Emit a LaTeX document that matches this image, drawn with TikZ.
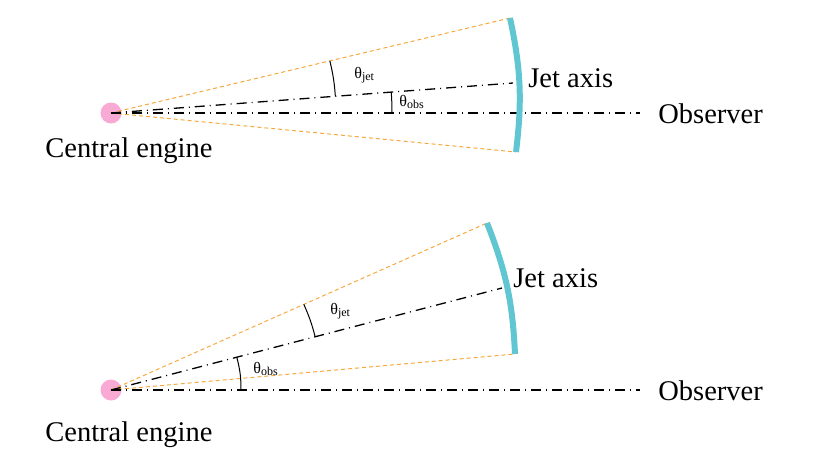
\documentclass[tikz,border=0pt]{standalone}
\usepackage{fontspec}
\setmainfont{Liberation Serif}
\usepackage{tikz}
\usetikzlibrary{calc}
\definecolor{enginepink}{RGB}{249,170,212}
\definecolor{jetcyan}{RGB}{95,198,210}
\definecolor{coneorange}{RGB}{246,168,62}
\tikzset{eng/.style={circle,fill=enginepink,minimum size=10.5pt,inner sep=0pt},
  axisline/.style={line width=0.65pt,dash pattern=on 5pt off 2.5pt on 0.5pt off 2.5pt},
  cone/.style={coneorange,line width=0.5pt,dash pattern=on 2pt off 1.5pt},
  shell/.style={jetcyan,line width=3pt},
  ang/.style={line width=0.5pt},
  lbl/.style={inner sep=0pt,anchor=base west,font=\fontsize{14.25}{17}\selectfont},
  sml/.style={inner sep=0pt,anchor=west,font=\fontsize{8}{9}\selectfont}}

\begin{document}
\begin{tikzpicture}[x=0.5pt,y=-0.5pt]
  \useasboundingbox (0,0) rectangle (830,463);
  % jet seen near its axis
  \node[eng] (eng1) at (111,113) {};
  \coordinate (obs1) at (640,113);
  \coordinate (ja1) at (513,83);
  \coordinate (cu1) at (510,18);
  \coordinate (cl1) at (516,152);
  \draw[cone] (eng1.center) edge (cu1) edge (cl1);
  \draw[axisline] (eng1.center) edge (obs1) edge (ja1);
  \draw[shell] (cu1) to[bend left=9.5] (cl1);
  \draw[ang] ($(eng1.center)!112.5pt!(ja1)$) to[bend right=4.5] ($(eng1.center)!112.5pt!(cu1)$);
  \draw[ang] ($(eng1.center)!140.5pt!(obs1)$) to[bend right=2.1] ($(eng1.center)!140.5pt!(ja1)$);
  \node[lbl] (ce1) at (45,157) {Central engine};
  \node[lbl] (ob1) at (658,123) {Observer};
  \node[lbl] (jl1) at (528,87) {Jet axis};
  \node[sml] (tj1) at (354,75) {θ\textsubscript{jet}};
  \node[sml] (to1) at (399,102) {θ\textsubscript{obs}};
  % jet seen off axis
  \node[eng] (eng2) at (111,390) {};
  \coordinate (obs2) at (640,390);
  \coordinate (ja2) at (502,288);
  \coordinate (cu2) at (487,223);
  \coordinate (cl2) at (515,354);
  \draw[cone] (eng2.center) edge (cu2) edge (cl2);
  \draw[axisline] (eng2.center) edge (obs2) edge (ja2);
  \draw[shell] (cu2) to[bend left=9.4] (cl2);
  \draw[ang] ($(eng2.center)!105.5pt!(ja2)$) to[bend right=4.6] ($(eng2.center)!105.5pt!(cu2)$);
  \draw[ang] ($(eng2.center)!65pt!(obs2)$) to[bend right=7.3] ($(eng2.center)!65pt!(ja2)$);
  \node[lbl] (ce2) at (45,441) {Central engine};
  \node[lbl] (ob2) at (658,400) {Observer};
  \node[lbl] (jl2) at (513,287) {Jet axis};
  \node[sml] (tj2) at (330,311) {θ\textsubscript{jet}};
  \node[sml] (to2) at (253,369) {θ\textsubscript{obs}};
\end{tikzpicture}
\end{document}
